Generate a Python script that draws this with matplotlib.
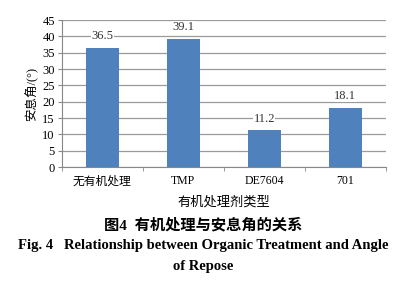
import matplotlib
matplotlib.use('Agg')
import matplotlib.pyplot as plt
import numpy as np

# Data
categories = ['无有机处理', 'TMP', 'DE7604', '701']
angles = [36.5, 39.1, 11.2, 18.1]
yticks = [0, 5, 10, 15, 20, 25, 30, 35, 40, 45]

fonts = ['Liberation Serif', 'Noto Sans CJK SC']
plt.rcParams['font.family'] = fonts
plt.rcParams['axes.unicode_minus'] = False

fig = plt.figure(figsize=(4.07, 2.86), dpi=100)
ax = fig.add_axes([0.152, 0.416, 0.796, 0.514])

x = np.arange(len(categories))
bars = ax.bar(x, angles, width=0.4, color='#4f81bd', zorder=3)

for xi, v in zip(x, angles):
    ax.text(xi, v + 1.8, '%.1f' % v, ha='center', va='bottom', fontsize=9,
            color='#333333', zorder=4,
            bbox=dict(facecolor='white', edgecolor='none', pad=0.3))

ax.set_ylim(0, 45)
ax.set_xlim(-0.5, len(categories) - 0.5)
ax.set_yticks(yticks)
ax.set_yticklabels([str(t) for t in yticks], fontsize=9)
ax.yaxis.grid(True, color='#9a9a9a', linewidth=0.9, zorder=0)

ax.set_xticks(x)
ax.set_xticklabels(categories, fontsize=8.5)
ax.set_xticks(np.arange(-0.5, len(categories), 1), minor=True)
ax.tick_params(axis='x', which='major', length=0, pad=6)
ax.tick_params(axis='x', which='minor', length=3, color='#888888', direction='out')
ax.tick_params(axis='y', length=3, color='#888888', pad=2)

for s in ['top', 'right']:
    ax.spines[s].set_visible(False)
for s in ['left', 'bottom']:
    ax.spines[s].set_color('#888888')

ax.set_ylabel('安息角/(°)', fontsize=9, labelpad=3)
ax.set_xlabel('有机处理剂类型', fontsize=9.5, labelpad=6)

fig.text(0.50, 0.213, '图4  有机处理与安息角的关系', ha='center', va='center',
         fontsize=11, fontweight='bold')
fig.text(0.5, 0.14, 'Fig. 4   Relationship between Organic Treatment and Angle',
         ha='center', va='center', fontsize=10.5, fontweight='bold')
fig.text(0.5, 0.068, 'of Repose', ha='center', va='center',
         fontsize=10.5, fontweight='bold')

fig.savefig('out.png', dpi=100)
